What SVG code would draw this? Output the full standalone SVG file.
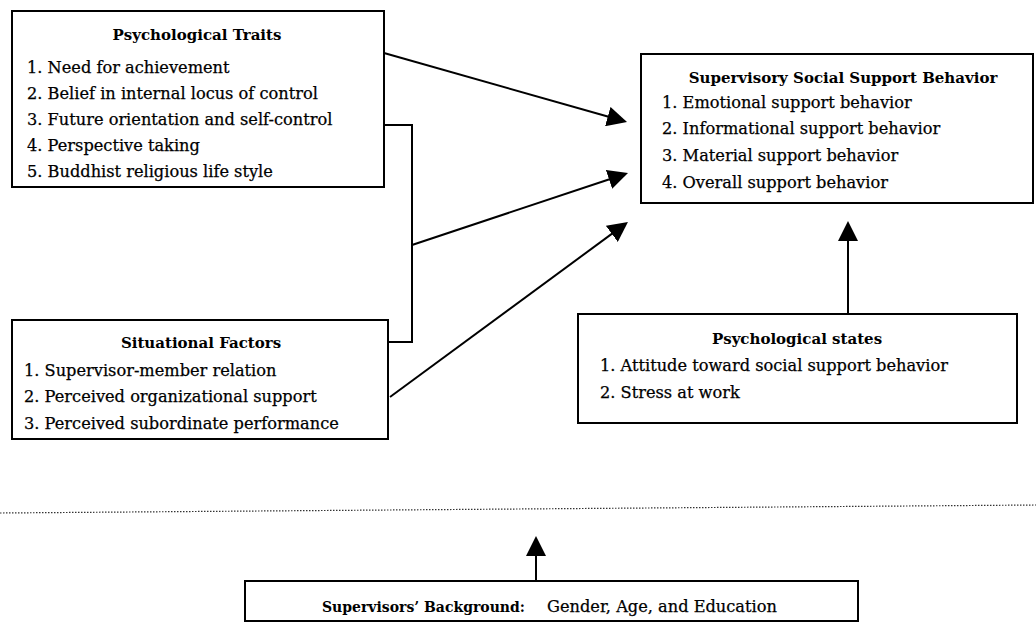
<svg xmlns="http://www.w3.org/2000/svg" width="1036" height="624" viewBox="0 0 1036 624">
<style>
.box{fill:#fff;stroke:#000;stroke-width:2}
.ln{fill:none;stroke:#000;stroke-width:2}
.t{font-family:"DejaVu Serif","Liberation Serif",serif;font-size:16.2px;fill:#000;stroke:#000;stroke-width:0.25}
.h{font-family:"DejaVu Serif","Liberation Serif",serif;font-size:15px;font-weight:bold;fill:#000;text-anchor:middle}
.b{font-family:"DejaVu Serif","Liberation Serif",serif;font-size:14px;font-weight:bold;fill:#000}
</style>
<defs>
<marker id="ah" markerUnits="userSpaceOnUse" markerWidth="20" markerHeight="20" refX="10" refY="10" orient="auto" viewBox="0 0 20 20">
<path d="M0,0 L20,10 L0,20 z" fill="#000"/>
</marker>
</defs>
<rect width="1036" height="624" fill="#fff"/>
<g id="connectors">
<line class="ln" x1="384" y1="53" x2="617.4" y2="119.3" marker-end="url(#ah)"/>
<path class="ln" d="M384,125 H412 V342 H388"/>
<line class="ln" x1="412" y1="245" x2="618.5" y2="176.2" marker-end="url(#ah)"/>
<line class="ln" x1="390" y1="397" x2="619.9" y2="227.9" marker-end="url(#ah)"/>
<line class="ln" x1="848" y1="314" x2="848" y2="231" marker-end="url(#ah)"/>
<line class="ln" x1="536" y1="581" x2="536" y2="546" marker-end="url(#ah)"/>
</g>
<line x1="0" y1="513" x2="1036" y2="505" stroke="#333" stroke-width="1.2" stroke-dasharray="1.5 1.5"/>
<g id="psych-traits">
<rect class="box" x="12" y="11" width="372" height="176"/>
<text class="h" x="197" y="40">Psychological Traits</text>
<text class="t" x="27" y="73">1. Need for achievement</text>
<text class="t" x="27" y="99">2. Belief in internal locus of control</text>
<text class="t" x="27" y="125">3. Future orientation and self-control</text>
<text class="t" x="27" y="151">4. Perspective taking</text>
<text class="t" x="27" y="177">5. Buddhist religious life style</text>
</g>
<g id="situational">
<rect class="box" x="12" y="320" width="376" height="119"/>
<text class="h" x="201" y="348">Situational Factors</text>
<text class="t" x="24" y="376">1. Supervisor-member relation</text>
<text class="t" x="24" y="402">2. Perceived organizational support</text>
<text class="t" x="24" y="429">3. Perceived subordinate performance</text>
</g>
<g id="supervisory">
<rect class="box" x="641" y="54" width="392" height="149"/>
<text class="h" x="843" y="83">Supervisory Social Support Behavior</text>
<text class="t" x="662" y="108">1. Emotional support behavior</text>
<text class="t" x="662" y="134">2. Informational support behavior</text>
<text class="t" x="662" y="161">3. Material support behavior</text>
<text class="t" x="662" y="188">4. Overall support behavior</text>
</g>
<g id="psych-states">
<rect class="box" x="578" y="314" width="439" height="109"/>
<text class="h" x="797" y="344">Psychological states</text>
<text class="t" x="600" y="371">1. Attitude toward social support behavior</text>
<text class="t" x="600" y="398">2. Stress at work</text>
</g>
<g id="background">
<rect class="box" x="245" y="581" width="613" height="40"/>
<text x="322" y="612"><tspan class="b">Supervisors’ Background:</tspan><tspan class="t" x="547">Gender, Age, and Education</tspan></text>
</g>
</svg>
